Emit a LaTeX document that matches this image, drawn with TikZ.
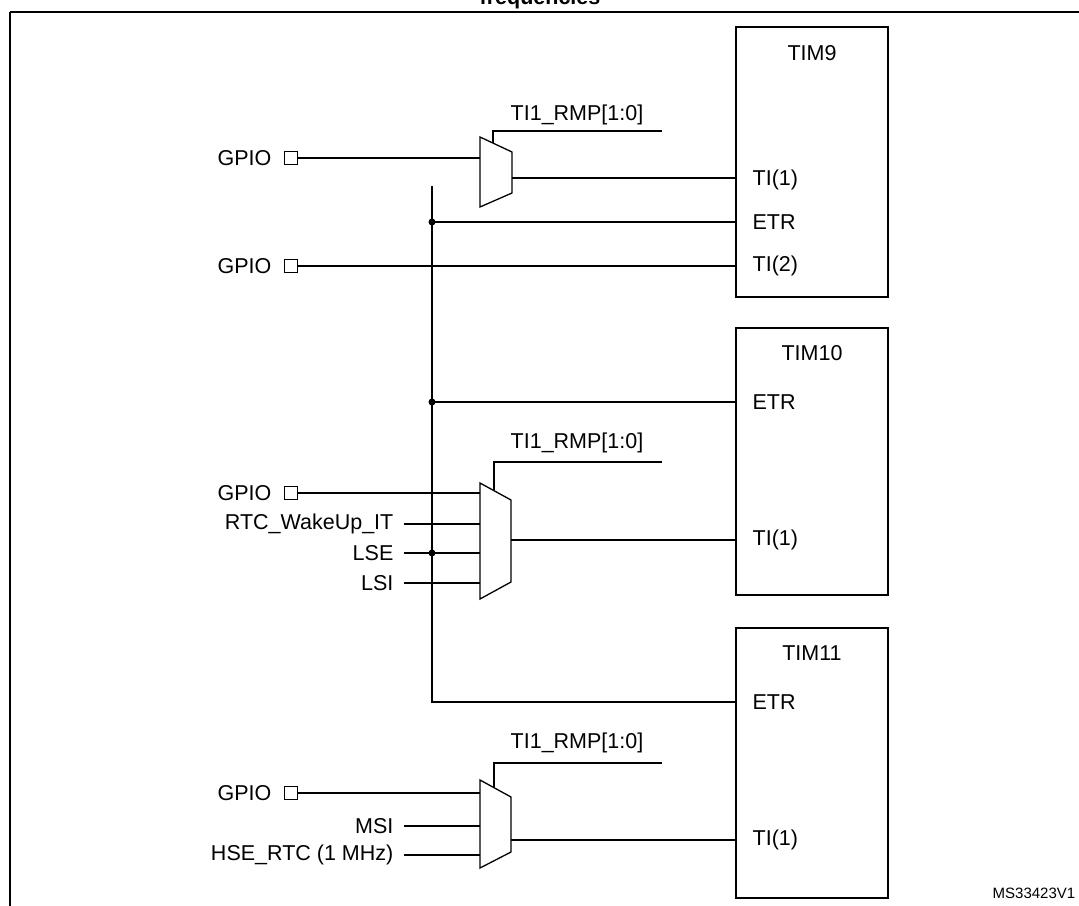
\documentclass[tikz,border=0pt]{standalone}
\usepackage{fontspec}
\setmainfont{Liberation Sans}
\begin{document}
\begin{tikzpicture}[x=1pt,y=-1pt,line width=1.3pt,
  lbl/.style={font=\fontsize{21.5}{25}\selectfont,inner sep=0pt},
  pin/.style={lbl,anchor=west},
  inl/.style={lbl,anchor=east},
  tim/.style={draw,line width=1.4pt},
  dot/.style={circle,fill,inner sep=0pt,minimum size=7pt},
  pad/.style={draw,line width=1.4pt,minimum size=13pt,inner sep=0pt}]
\useasboundingbox (0,0) rectangle (1079,905);
\node[lbl,font=\bfseries\fontsize{21.5}{25}\selectfont] (title) at (540,-1) {frequencies};
\draw[line width=1.6pt] (10,12) -- (1085,12) (10,12) -- (10,910);
% timers
\draw[tim] (736,27) rectangle (888,297);
\draw[tim] (736,328) rectangle (888,595);
\draw[tim] (736,628) rectangle (888,898);
\node[lbl] (t9) at (812,53) {TIM9};
\node[lbl] (t10) at (812,353) {TIM10};
\node[lbl] (t11) at (812,653) {TIM11};
\node[pin] (ti91) at (752,180) {TI(1)};
\node[pin] (etr9) at (752,222) {ETR};
\node[pin] (ti92) at (752,266) {TI(2)};
\node[pin] (etr10) at (752,402) {ETR};
\node[pin] (ti101) at (752,540) {TI(1)};
\node[pin] (etr11) at (752,702) {ETR};
\node[pin] (ti111) at (752,840) {TI(1)};
\coordinate (p91) at (736,178); \coordinate (pe9) at (736,222);
\coordinate (p92) at (736,266); \coordinate (pe10) at (736,402);
\coordinate (p101) at (736,540); \coordinate (pe11) at (736,702);
\coordinate (p111) at (736,840);
% mux 1
\draw (480,137) -- (512,152) -- (512,193) -- (480,207) -- cycle;
\draw (493,143) -- (493,131) -- (662,131);
\node[lbl] (s1) at (577,115) {TI1\_RMP[1:0]};
\node[pad] (g1) at (291,158) {};
\node[inl] (gl1) at (272,158) {GPIO};
\draw (g1.east) -- (480,158);
\draw (512,178) -- (p91);
% bus
\draw (432,186) -- (432,702) -- (pe11);
\draw (432,222) -- (pe9);
\node[dot] (d1) at (432,222) {};
\node[pad] (g2) at (291,266) {};
\node[inl] (gl2) at (272,266) {GPIO};
\draw (g2.east) -- (p92);
\draw (432,402) -- (pe10);
\node[dot] (d2) at (432,402) {};
% mux 2
\draw (480,483) -- (511,500) -- (511,582) -- (480,599) -- cycle;
\draw (494,490) -- (494,462) -- (662,462);
\node[lbl] (s2) at (577,443) {TI1\_RMP[1:0]};
\node[pad] (g3) at (291,493) {};
\node[inl] (gl3) at (272,493) {GPIO};
\draw (g3.east) -- (480,493);
\node[inl] (rtc) at (394,524) {RTC\_WakeUp\_IT};
\node[inl] (lse) at (394,553) {LSE};
\node[inl] (lsi) at (394,583) {LSI};
\draw (404,524) -- (480,524);
\draw (404,553) -- (480,553);
\draw (404,583) -- (480,583);
\node[dot] (d3) at (432,553) {};
\draw (511,540) -- (p101);
% mux 3
\draw (480,780) -- (511,797) -- (511,852) -- (480,868) -- cycle;
\draw (494,787) -- (494,763) -- (662,763);
\node[lbl] (s3) at (577,743) {TI1\_RMP[1:0]};
\node[pad] (g4) at (291,793) {};
\node[inl] (gl4) at (272,793) {GPIO};
\draw (g4.east) -- (480,793);
\node[inl] (msi) at (394,826) {MSI};
\node[inl] (hse) at (394,855) {HSE\_RTC (1 MHz)};
\draw (404,826) -- (480,826);
\draw (404,855) -- (480,855);
\draw (511,840) -- (p111);
\node[lbl,anchor=west,font=\fontsize{15}{18}\selectfont] (ms) at (992,893) {MS33423V1};
\end{tikzpicture}
\end{document}
